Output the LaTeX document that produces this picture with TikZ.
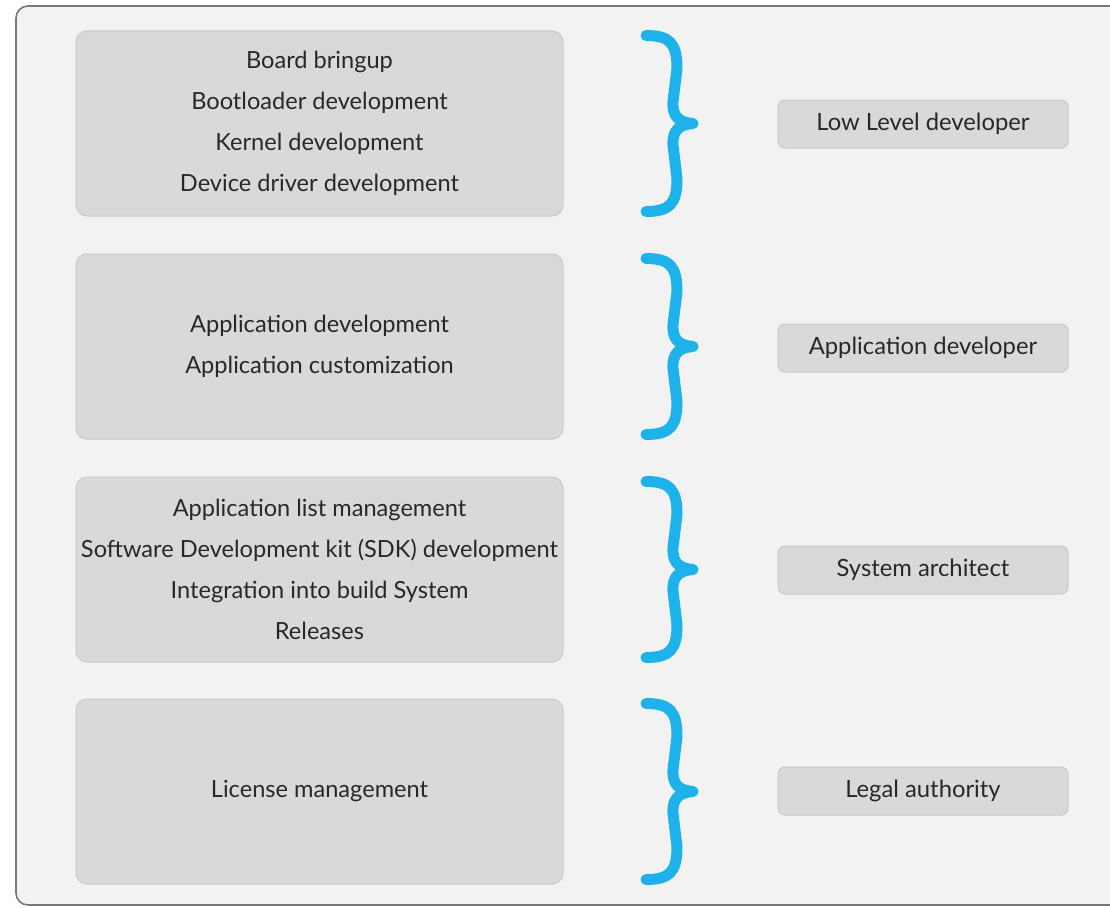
\documentclass[tikz,border=0pt]{standalone}
\usepackage{fontspec}
\setmainfont{Lato}
\usetikzlibrary{calc}
\definecolor{panelbg}{RGB}{242,242,242}
\definecolor{panelline}{RGB}{120,120,120}
\definecolor{boxfill}{RGB}{217,217,217}
\definecolor{boxline}{RGB}{200,200,200}
\definecolor{bracecol}{RGB}{30,178,235}
\definecolor{txt}{RGB}{40,40,40}
\begin{document}
\begin{tikzpicture}[x=1pt,y=-1pt,
  taskbox/.style={draw=boxline,fill=boxfill,line width=1pt,rounded corners=11pt,
    minimum width=487pt,minimum height=185pt,align=center,text=txt,
    font=\fontsize{23.6}{41}\selectfont,inner sep=0pt},
  rolebox/.style={draw=boxline,fill=boxfill,line width=1pt,rounded corners=7pt,
    minimum width=290pt,minimum height=48pt,align=center,text=txt,
    font=\fontsize{23.8}{26}\selectfont,inner sep=0pt},
  bracestroke/.style={draw=bracecol,line width=11pt,line cap=round,line join=round}]
\useasboundingbox (0,0) rectangle (1110,907);
\fill[white] (0,0) rectangle (1110,907);
% outer panel
\draw[panelline,fill=panelbg,line width=1.6pt,rounded corners=12pt] (16,6) rectangle (1140,905);

% task groups
\node[taskbox] (l1) at (319.5,123.5) {Board bringup\\Bootloader development\\Kernel development\\Device driver development};
\node[taskbox] (l2) at (319.5,346.5) {Application development\\Application customization};
\node[taskbox] (l3) at (319.5,569.5) {Application list management\\Software Development kit (SDK) development\\Integration into build System\\Releases};
\node[taskbox] (l4) at (319.5,791.5) {License management};

% roles
\node[rolebox] (r1) at (923,124) {Low Level developer};
\node[rolebox] (r2) at (923,348) {Application developer};
\node[rolebox] (r3) at (923,570) {System architect};
\node[rolebox] (r4) at (923,791) {Legal authority};

% curly braces between each group and its role
\foreach \b in {l1,l2,l3,l4}{
  \path (\b.center) coordinate (c);
  \draw[bracestroke] let \p1=(c) in
    (646,\y1-88) .. controls (670,\y1-88) and (677,\y1-80) .. (677,\y1-55)
    -- (673,\y1-22) .. controls (672,\y1-6) and (680,\y1-1) .. (693,\y1)
    .. controls (680,\y1+1) and (672,\y1+6) .. (673,\y1+22)
    -- (677,\y1+55) .. controls (677,\y1+80) and (670,\y1+88) .. (646,\y1+88);
}
\end{tikzpicture}
\end{document}
